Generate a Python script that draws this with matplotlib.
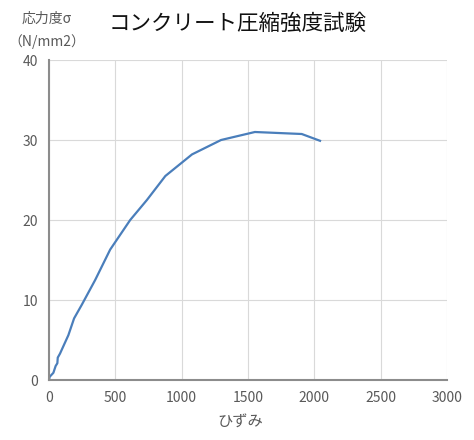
import matplotlib
matplotlib.use("Agg")
import matplotlib.pyplot as plt

plt.rcParams['font.family'] = ['Noto Sans CJK JP', 'DejaVu Sans']

# Data
strain = [0, 5, 33, 50, 63, 66, 83, 113, 146, 189, 247, 348, 461, 612, 738,
          877, 1078, 1297, 1552, 1905, 2043]
stress = [0, 0.4, 0.9, 1.75, 2.1, 2.8, 3.3, 4.4, 5.6, 7.7, 9.4, 12.5, 16.3,
          20.0, 22.5, 25.5, 28.2, 30.0, 31.0, 30.75, 29.9]
x_ticks = [0, 500, 1000, 1500, 2000, 2500, 3000]
y_ticks = [0, 10, 20, 30, 40]

fig = plt.figure(figsize=(4.74, 4.40), dpi=100)
ax = fig.add_axes([49 / 474, 1 - 380 / 440, 398 / 474, 320 / 440])

ax.plot(strain, stress, "-", color="#4a7ebb", lw=1.6)

ax.set_xlim(0, 3000)
ax.set_ylim(0, 40)
ax.set_xticks(x_ticks)
ax.set_yticks(y_ticks)
ax.grid(color="#d9d9d9", lw=0.8)
ax.set_axisbelow(True)
ax.tick_params(length=0, labelsize=10, colors="#595959", pad=8)

for s in ["top", "right"]:
    ax.spines[s].set_visible(False)
for s in ["left", "bottom"]:
    ax.spines[s].set_color("#8c8c8c")
    ax.spines[s].set_linewidth(1.5)

fig.text(238 / 474, 1 - 24 / 440, "コンクリート圧縮強度試験", fontsize=15.5,
         ha="center", va="center", color="#111111")
fig.text(47 / 474, 1 - 19 / 440, "応力度σ", fontsize=10,
         ha="center", va="center", color="#595959")
fig.text(47 / 474, 1 - 42 / 440, "（N/mm2）", fontsize=10,
         ha="center", va="center", color="#595959")
fig.text(240 / 474, 1 - 422 / 440, "ひずみ", fontsize=11,
         ha="center", va="center", color="#595959")

fig.savefig("out.png", dpi=100)
